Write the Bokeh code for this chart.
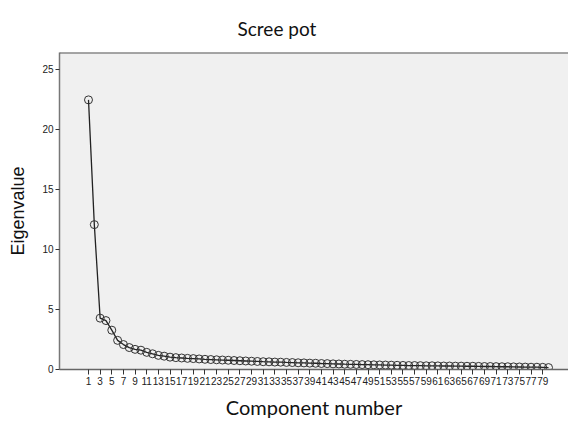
from bokeh.plotting import figure
from bokeh.models import FixedTicker, Range1d, ColumnDataSource, Title, Span
from bokeh.embed import file_html
from bokeh.resources import INLINE

components = list(range(1, 81))
eigenvalues = [
    22.45, 12.05, 4.25, 4.05, 3.25, 2.40, 2.05, 1.80, 1.65, 1.58,
    1.40, 1.28, 1.15, 1.08, 1.00, 0.96, 0.93, 0.90, 0.88, 0.85,
    0.82, 0.80, 0.78, 0.76, 0.74, 0.72, 0.70, 0.68, 0.66, 0.64,
    0.62, 0.61, 0.59, 0.58, 0.56, 0.55, 0.53, 0.52, 0.50, 0.49,
    0.47, 0.46, 0.44, 0.43, 0.41, 0.40, 0.39, 0.38, 0.37, 0.36,
    0.35, 0.34, 0.33, 0.32, 0.31, 0.30, 0.30, 0.29, 0.28, 0.28,
    0.27, 0.26, 0.26, 0.25, 0.25, 0.24, 0.24, 0.23, 0.22, 0.22,
    0.21, 0.20, 0.20, 0.19, 0.18, 0.17, 0.16, 0.16, 0.15, 0.13,
]
x_ticks = list(range(1, 80, 2))
y_ticks = [0, 5, 10, 15, 20, 25]
y_top = 26.4

src = ColumnDataSource(data=dict(x=components, y=eigenvalues))

p = figure(width=568, height=421, output_backend="svg", toolbar_location=None,
           x_range=Range1d(-3.98, 83.43), y_range=Range1d(-0.03, y_top),
           min_border_left=59, min_border_right=0, min_border_top=52, min_border_bottom=49)
p.title = None
t = Title(text="Scree pot", align="left", offset=178, text_font="Lato",
          text_font_size="19px", text_font_style="normal", text_color="#111111",
          standoff=26)
p.add_layout(t, "above")

p.background_fill_color = "#f0f0f0"
p.border_fill_color = "white"
p.outline_line_color = None
p.grid.visible = False
p.add_layout(Span(location=y_top, dimension="width", line_color="#555555", line_width=2))

p.line("x", "y", source=src, line_color="#222222", line_width=1.3)
p.scatter("x", "y", source=src, size=8, marker="circle", fill_alpha=0,
          line_color="#333333", line_width=1)

xa = p.xaxis[0]
xa.ticker = FixedTicker(ticks=x_ticks)
xa.minor_tick_line_color = None
xa.major_tick_in = 0
xa.major_tick_out = 5
xa.major_tick_line_color = "#333333"
xa.axis_line_color = "#666666"
xa.axis_line_width = 1.5
xa.major_label_text_font = "Liberation Sans"
xa.major_label_text_font_size = "10px"
xa.major_label_text_color = "#222222"
xa.major_label_standoff = 2
xa.axis_label = "Component number"
xa.axis_label_text_font = "Lato"
xa.axis_label_text_font_size = "20px"
xa.axis_label_text_font_style = "normal"
xa.axis_label_text_color = "#111111"
xa.axis_label_standoff = 7

ya = p.yaxis[0]
ya.ticker = FixedTicker(ticks=y_ticks)
ya.minor_tick_line_color = None
ya.major_tick_in = 0
ya.major_tick_out = 4
ya.major_tick_line_color = "#333333"
ya.axis_line_color = "#777777"
ya.axis_line_width = 1.5
ya.major_label_text_font = "Liberation Sans"
ya.major_label_text_font_size = "10px"
ya.major_label_text_color = "#222222"
ya.major_label_standoff = 2
ya.axis_label = "Eigenvalue"
ya.axis_label_text_font = "Liberation Sans"
ya.axis_label_text_font_size = "18px"
ya.axis_label_text_font_style = "normal"
ya.axis_label_text_color = "#111111"
ya.axis_label_standoff = 11

open("out.html", "w").write(file_html(p, INLINE))
